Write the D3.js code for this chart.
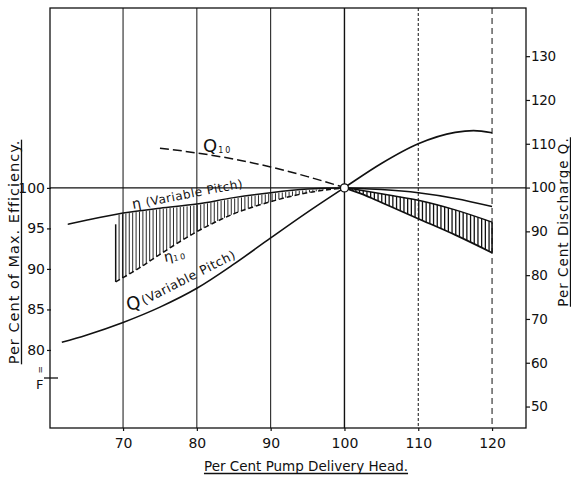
<!DOCTYPE html>
<html><head><meta charset="utf-8">
<script src="https://cdn.jsdelivr.net/npm/d3@7"></script>
<style>
body{margin:0;background:#fff;}
svg{display:block;font-family:"DejaVu Sans",sans-serif;}
.axis path{display:none;}
.axis line{stroke:#111;stroke-width:1.2;}
.axis text{font-size:14px;fill:#111;font-family:"DejaVu Sans",sans-serif;}
.axis.right text{font-size:13.5px;letter-spacing:-0.4px;}
</style></head>
<body>
<script>
// ---- data ----
const headTicks = [70, 80, 90, 100, 110, 120];
const effTicks = [80, 85, 90, 95, 100];
const dischargeTicks = [50, 60, 70, 80, 90, 100, 110, 120, 130];

// efficiency, variable pitch (left axis)
const etaVPHead = [62.5, 65, 70, 75, 80, 85, 90, 95, 100, 105, 110, 115, 120];
const etaVP     = [95.5, 96.0, 96.9, 97.5, 98.0, 98.8, 99.4, 99.85, 100, 99.8, 99.4, 98.7, 97.7];

// efficiency, fixed pitch 10 (left axis)
const eta10Head = [69, 72, 75, 80, 85, 90, 95, 100, 102.5, 105, 110, 115, 120];
const eta10     = [88.4, 90.0, 91.8, 94.6, 96.8, 98.3, 99.4, 100, 99.2, 98.2, 96.2, 94.2, 92.0];

// discharge, variable pitch (right axis)
const qVPHead = [61.7, 65, 70, 75, 80, 85, 90, 95, 100, 105, 110, 115, 117.5, 120];
const qVP     = [64.7, 66.3, 69.2, 72.7, 77, 82.5, 88.5, 94.4, 100, 105.5, 110, 112.6, 113, 112.5];

// discharge, fixed pitch 10 (right axis)
const q10Head = [75, 80, 85, 90, 95, 100, 105, 110, 115, 120];
const q10     = [109, 107.9, 106.5, 104.7, 102.5, 100, 98.6, 97.1, 94.9, 92.1];

const W = 571, H = 479;
const svg = d3.select("body").append("svg").attr("width", W).attr("height", H);

const x  = d3.scaleLinear().domain([60.1, 124.6]).range([50, 526]);
const yE = d3.scaleLinear().domain([70.37, 122.2]).range([428, 8]);
const yQ = d3.scaleLinear().domain([45.1, 141]).range([428, 8]);

// vertical grid lines
const gridDash = {70:null, 80:null, 90:null, 100:null, 110:"3,2", 120:"6,4"};
svg.append("g").selectAll("line").data(headTicks).join("line")
  .attr("x1", d => x(d)).attr("x2", d => x(d))
  .attr("y1", 8).attr("y2", 428)
  .attr("stroke", "#111")
  .attr("stroke-width", d => d === 100 ? 1.4 : 1)
  .attr("stroke-dasharray", d => gridDash[d]);

// horizontal 100 line
svg.append("line").attr("x1", 50).attr("x2", 526)
  .attr("y1", yE(100)).attr("y2", yE(100)).attr("stroke", "#111").attr("stroke-width", 1.3);

// frame
svg.append("rect").attr("x", 50).attr("y", 8).attr("width", 476).attr("height", 420)
  .attr("fill", "none").attr("stroke", "#111").attr("stroke-width", 1.3);

// axes
svg.append("g").attr("class", "axis").attr("transform", "translate(51,0)")
  .call(d3.axisLeft(yE).tickValues(effTicks).tickSize(4).tickPadding(2));
svg.append("g").attr("class", "axis right").attr("transform", "translate(526,0)")
  .call(d3.axisRight(yQ).tickValues(dischargeTicks).tickSize(4).tickPadding(1));
svg.append("g").attr("class", "axis").attr("transform", "translate(0,428)")
  .call(d3.axisBottom(x).tickValues(headTicks).tickSize(3).tickPadding(7));

// curves
const lineE = (hs, vs) => d3.line().curve(d3.curveMonotoneX)
  .x((d, i) => x(hs[i])).y((d, i) => yE(vs[i]))(vs);
const lineQ = (hs, vs) => d3.line().curve(d3.curveMonotoneX)
  .x((d, i) => x(hs[i])).y((d, i) => yQ(vs[i]))(vs);

function lookup(node) {
  const L = node.getTotalLength(), pts = [];
  for (let i = 0; i <= 800; i++) { const p = node.getPointAtLength(L * i / 800); pts.push([p.x, p.y]); }
  pts.sort((a, b) => a[0] - b[0]);
  return px => {
    for (let i = 1; i < pts.length; i++) {
      if (pts[i][0] >= px) {
        const a = pts[i - 1], b = pts[i], t = (b[0] - a[0]) ? (px - a[0]) / (b[0] - a[0]) : 0;
        return a[1] + t * (b[1] - a[1]);
      }
    }
    return pts[pts.length - 1][1];
  };
}

const curves = svg.append("g").attr("fill", "none").attr("stroke", "#111");

const pEtaVP = curves.append("path").attr("d", lineE(etaVPHead, etaVP)).attr("stroke-width", 1.5);
const pQVP = curves.append("path").attr("d", lineQ(qVPHead, qVP)).attr("stroke-width", 1.6);

// split fixed pitch curves: dashed left of 100, solid right
const iE = eta10Head.indexOf(100), iQ = q10Head.indexOf(100);
const pEta10L = curves.append("path").attr("d", lineE(eta10Head.slice(0, iE + 1), eta10.slice(0, iE + 1)))
  .attr("stroke-width", 1.5).attr("stroke-dasharray", "5,3");
const pEta10R = curves.append("path").attr("d", lineE(eta10Head.slice(iE), eta10.slice(iE)))
  .attr("stroke-width", 1.7);
const pQ10L = curves.append("path").attr("d", lineQ(q10Head.slice(0, iQ + 1), q10.slice(0, iQ + 1)))
  .attr("stroke-width", 1.5).attr("stroke-dasharray", "9,4");
const pQ10R = curves.append("path").attr("d", lineQ(q10Head.slice(iQ), q10.slice(iQ)))
  .attr("stroke-width", 1.5);

// hatching
const fEtaVP = lookup(pEtaVP.node()), fEta10L = lookup(pEta10L.node()),
      fEta10R = lookup(pEta10R.node()), fQ10R = lookup(pQ10R.node());
const hatch = svg.append("g").attr("stroke", "#111");
const leftX = d3.range(x(eta10Head[0]), x(100) - 2, 3.4);
hatch.selectAll("line.l").data(leftX).join("line").attr("class", "l")
  .attr("x1", d => d).attr("x2", d => d)
  .attr("y1", (d, i) => fEtaVP(d) + (i === 0 ? 10 : 1)).attr("y2", d => fEta10L(d))
  .attr("stroke-width", (d, i) => i === 0 ? 1.5 : 0.9);
const rightX = d3.range(x(100) + 4, x(120) + 0.5, 3.7);
hatch.selectAll("line.r").data(rightX).join("line").attr("class", "r")
  .attr("x1", d => d).attr("x2", d => d)
  .attr("y1", d => fQ10R(d)).attr("y2", d => fEta10R(d))
  .attr("stroke-width", 1.3);
svg.append("line").attr("x1", x(120)).attr("x2", x(120))
  .attr("y1", fQ10R(x(120))).attr("y2", fEta10R(x(120))).attr("stroke", "#111").attr("stroke-width", 1.6);

// intersection circle
svg.append("circle").attr("cx", x(100)).attr("cy", yE(100)).attr("r", 4)
  .attr("fill", "#fff").attr("stroke", "#111").attr("stroke-width", 1.3);

// curve labels
const lab = svg.append("g").attr("fill", "#111");
const tQ10 = lab.append("text").attr("x", 203).attr("y", 152).attr("font-size", 18).text("Q");
tQ10.append("tspan").attr("font-size", 8).attr("dx", 1).attr("dy", 1).attr("letter-spacing", 2).text("10");

lab.append("text").attr("transform", "translate(133,209) rotate(-11)")
  .attr("font-size", 12).attr("letter-spacing", 0.5)
  .html('<tspan font-size="14">η</tspan> (Variable Pitch)');

const tEta = lab.append("text").attr("transform", "translate(165,262) rotate(-12)").attr("font-size", 14).text("η");
tEta.append("tspan").attr("font-size", 8).attr("dy", 1).attr("letter-spacing", 2).text("10");

lab.append("text").attr("transform", "translate(128,311) rotate(-14)").attr("font-size", 18).text("Q");
lab.append("text").attr("transform", "translate(144,305) rotate(-27)").attr("font-size", 12.5)
  .attr("letter-spacing", 0.6).text("(Variable Pitch)");

// axis titles with underline
function titled(txt, tx, ty, rot, size, ls) {
  const g = svg.append("g").attr("transform", `translate(${tx},${ty}) rotate(${rot})`);
  const t = g.append("text").attr("text-anchor", "middle").attr("font-size", size)
    .attr("letter-spacing", ls).attr("fill", "#111").text(txt);
  const w = t.node().getComputedTextLength();
  g.append("line").attr("x1", -w / 2).attr("x2", w / 2).attr("y1", 2.5).attr("y2", 2.5)
    .attr("stroke", "#111").attr("stroke-width", 1.3);
}
titled("Per Cent Pump Delivery Head.", 306, 471, 0, 13.5, 0);
titled("Per Cent of Max. Efficiency.", 19, 252, -90, 14.5, 1);
titled("Per Cent Discharge Q.", 568, 222, -90, 13.5, 1);

// scan marks under the left scale
svg.append("text").attr("transform", "translate(38,366) rotate(90)").attr("font-size", 9).attr("fill", "#111").text("=");
svg.append("text").attr("x", 36).attr("y", 389).attr("font-size", 13).attr("fill", "#111").text("F");
svg.append("line").attr("x1", 44).attr("x2", 58).attr("y1", 378).attr("y2", 378).attr("stroke", "#111").attr("stroke-width", 1.3);
</script>
</body></html>
